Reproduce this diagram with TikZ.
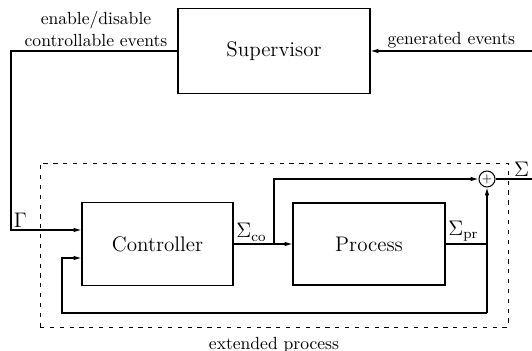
\documentclass[tikz,border=0pt]{standalone}
\usepackage{amsmath}
\usetikzlibrary{arrows.meta, positioning}

\begin{document}
\begin{tikzpicture}[
    x=0.02cm, y=-0.02cm,
    box/.style={rectangle, draw=black, line width=0.6pt, inner sep=0pt, font=\large},
    sum/.style={circle, draw=black, line width=0.6pt, inner sep=0pt, minimum size=0.32cm, font=\scriptsize},
    frame/.style={rectangle, draw=black, line width=0.5pt, dash pattern=on 2.4pt off 3.2pt},
    lbl/.style={inner sep=1.5pt, align=center},
    sig/.style={inner sep=1.5pt, font=\large},
    line/.style={line width=0.6pt},
    arrow/.style={-{Latex[length=4.5pt, width=2.6pt]}, line width=0.6pt}
]
\useasboundingbox (0,0) rectangle (532,351);

\node[box, minimum width=3.84cm, minimum height=1.7cm] (sup) at (274,51) {Supervisor};
\node[frame, minimum width=9.36cm, minimum height=3.28cm] (ext) at (274,245) {};
\node[box, minimum width=3.02cm, minimum height=1.66cm] (ctrl) at (157.5,244) {Controller};
\node[box, minimum width=3.04cm, minimum height=1.64cm] (proc) at (369,244) {Process};
\node[sum] (sum) at (487,179) {$+$};
\node[lbl, below=4pt of ext] (extlbl) {extended process};
\node[lbl] (enlbl) at (96,29) {enable/disable\\controllable events};

\coordinate (gen) at (532,51);
\coordinate (gamma) at (11,230);
\coordinate (br) at (274,244);
\coordinate (fb) at (62,313);
\coordinate (out) at (532,179);

\draw[arrow] (gen) -- node[lbl, above] {generated events} (sup.east);
\draw[arrow] (sup.west) -| (gamma) -- (gamma -| ctrl.west);
\node[sig, above right] at (gamma) {$\Gamma$};
\draw[arrow] (ctrl.east) -- (proc.west);
\node[sig, above right] at (ctrl.east) {$\Sigma_{\mathrm{co}}$};
\draw[arrow] (br) |- (sum.west);
\draw[line] (proc.east) -- (proc.east -| sum.south);
\node[sig, above right] at (proc.east) {$\Sigma_{\mathrm{pr}}$};
\draw[arrow] (sum.south |- fb) -- (sum.south);
\draw[arrow] (sum.south |- fb) -- (fb) |- ([yshift=-0.28cm]ctrl.west);
\draw[line] (sum.east) -- (out);
\node[sig, above left] at (out) {$\Sigma$};
\end{tikzpicture}
\end{document}
